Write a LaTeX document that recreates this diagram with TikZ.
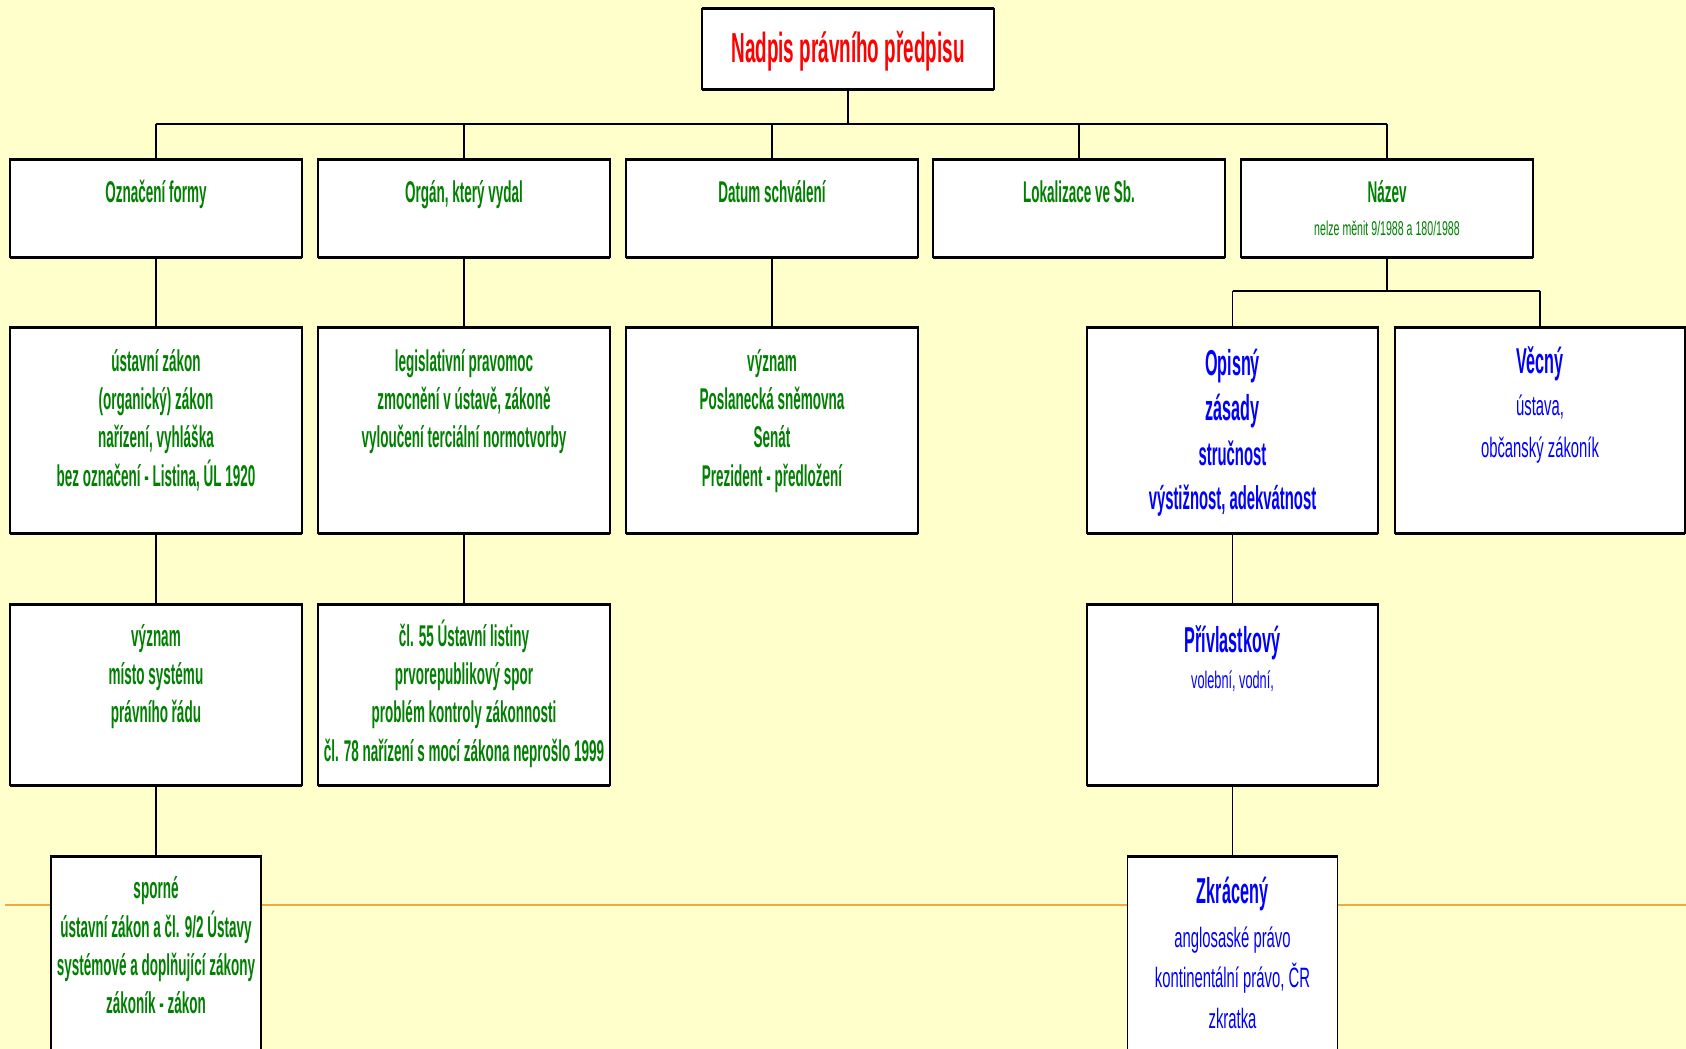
\documentclass[tikz,border=0pt]{standalone}
\usepackage{fontspec}
\newfontfamily\fb{Liberation Sans}[FakeStretch=0.45]
\newfontfamily\fr{Liberation Sans}[FakeStretch=0.53]
\definecolor{bgc}{RGB}{255,255,204}
\definecolor{gn}{RGB}{0,128,0}
\definecolor{bl}{RGB}{0,0,255}
\definecolor{rd}{RGB}{255,0,0}
\definecolor{org}{RGB}{240,168,64}
\begin{document}
\begin{tikzpicture}[x=1pt,y=-1pt,
  box/.style={draw=black, fill=white, line width=1.5pt, inner sep=0pt, outer sep=0pt, anchor=north west},
  edgeline/.style={line width=3pt},
  conn/.style={line width=1.3pt},
  bus/.style={line width=2.5pt},
  txt/.style={anchor=base, inner sep=0pt},
  ttl/.style={txt, text=rd, font=\fb\bfseries\fontsize{42}{50}\selectfont},
  gb/.style={txt, text=gn, font=\fb\bfseries\fontsize{30}{36}\selectfont},
  gr/.style={txt, text=gn, font=\fr\fontsize{20}{24}\selectfont},
  bb/.style={txt, text=bl, font=\fb\bfseries\fontsize{36}{42}\selectfont},
  bbs/.style={txt, text=bl, font=\fb\bfseries\fontsize{33}{40}\selectfont},
  br/.style={txt, text=bl, font=\fr\fontsize{28}{34}\selectfont},
  brs/.style={txt, text=bl, font=\fr\fontsize{24}{28}\selectfont}
]
\useasboundingbox (0,0) rectangle (1686,1049);
\clip (0,0) rectangle (1686,1049);
\fill[bgc] (0,0) rectangle (1686,1049);
\coordinate (busy) at (0,124);
\coordinate (nbus) at (0,291);
% orange rule
\coordinate (ol) at (5,905);
\coordinate (or) at (1690,905);
\draw[org, line width=2pt] (ol) -- (or);

% boxes
\node[box, minimum width=292, minimum height=80] (t) at (702,9) {};
\node[box, minimum width=292, minimum height=98] (b1) at (10,159) {};
\node[box, minimum width=292, minimum height=98] (b2) at (318,159) {};
\node[box, minimum width=292, minimum height=98] (b3) at (626,159) {};
\node[box, minimum width=292, minimum height=98] (b4) at (933,159) {};
\node[box, minimum width=292, minimum height=98] (b5) at (1241,159) {};
\node[box, minimum width=292, minimum height=206] (a1) at (10,327) {};
\node[box, minimum width=292, minimum height=206] (a2) at (318,327) {};
\node[box, minimum width=292, minimum height=206] (a3) at (626,327) {};
\node[box, minimum width=291, minimum height=206] (o2) at (1087,327) {};
\node[box, minimum width=290, minimum height=206] (v2) at (1395,327) {};
\node[box, minimum width=292, minimum height=181] (c1) at (10,604) {};
\node[box, minimum width=292, minimum height=181] (c2) at (318,604) {};
\node[box, minimum width=291, minimum height=181] (p3) at (1087,604) {};
\node[box, minimum width=210, minimum height=230] (d1) at (51,856) {};
\node[box, minimum width=210, minimum height=230] (z4) at (1127.5,856) {};

% connectors
\draw[conn] (t.south) -- (t.south |- busy);
\draw[bus] (b1.north |- busy) -- (b5.north |- busy);
\foreach \b in {b1,b2,b3,b4,b5} \draw[conn] (\b.north |- busy) -- (\b.north);
\draw[conn] (b1.south) -- (a1.north);
\draw[conn] (b2.south) -- (a2.north);
\draw[conn] (b3.south) -- (a3.north);
\draw[conn] (a1.south) -- (c1.north);
\draw[conn] (a2.south) -- (c2.north);
\draw[conn] (c1.south) -- (d1.north);
\draw[conn] (b5.south) -- (b5.south |- nbus);
\draw[bus] (o2.north |- nbus) -- (v2.north |- nbus);
\draw[conn] (o2.north |- nbus) -- (o2.north);
\draw[conn] (v2.north |- nbus) -- (v2.north);
\draw[conn] (o2.south) -- (p3.north);
\draw[conn] (p3.south) -- (z4.north);

% thick top and bottom edges
\foreach \b in {t,b1,b2,b3,b4,b5,a1,a2,a3,o2,v2,c1,c2,p3,d1,z4}
  \draw[edgeline] (\b.north west) -- (\b.north east) (\b.south west) -- (\b.south east);

% texts
\node[ttl] (tt) at (848,63) {Nadpis právního předpisu};

\node[gb] (h1) at (156,202) {Označení formy};
\node[gb] (h2) at (464,202) {Orgán, který vydal};
\node[gb] (h3) at (772,202) {Datum schválení};
\node[gb] (h4) at (1079,202) {Lokalizace ve Sb.};
\node[gb] (h5) at (1387,202) {Název};
\node[gr] (h5s) at (1387,235) {nelze měnit 9/1988 a 180/1988};

\node[gb] (a1l1) at (156,371) {ústavní zákon};
\node[gb] (a1l2) at (156,409) {(organický) zákon};
\node[gb] (a1l3) at (156,447) {nařízení, vyhláška};
\node[gb] (a1l4) at (156,486) {bez označení - Listina, ÚL 1920};

\node[gb] (a2l1) at (464,371) {legislativní pravomoc};
\node[gb] (a2l2) at (464,409) {zmocnění v ústavě, zákoně};
\node[gb] (a2l3) at (464,447) {vyloučení terciální normotvorby};

\node[gb] (a3l1) at (772,371) {význam};
\node[gb] (a3l2) at (772,409) {Poslanecká sněmovna};
\node[gb] (a3l3) at (772,447) {Senát};
\node[gb] (a3l4) at (772,486) {Prezident - předložení};

\node[bb] (o2l1) at (1232.5,375) {Opisný};
\node[bb] (o2l2) at (1232.5,420) {zásady};
\node[bbs] (o2l3) at (1232.5,465) {stručnost};
\node[bbs] (o2l4) at (1232.5,509) {výstižnost, adekvátnost};

\node[bb] (v2l1) at (1540,373) {Věcný};
\node[br] (v2l2) at (1540,415) {ústava,};
\node[br] (v2l3) at (1540,457) {občanský zákoník};

\node[gb] (c1l1) at (156,646) {význam};
\node[gb] (c1l2) at (156,684) {místo systému};
\node[gb] (c1l3) at (156,722) {právního řádu};

\node[gb] (c2l1) at (464,646) {čl. 55 Ústavní listiny};
\node[gb] (c2l2) at (464,684) {prvorepublikový spor};
\node[gb] (c2l3) at (464,722) {problém kontroly zákonnosti};
\node[gb] (c2l4) at (464,761) {čl. 78 nařízení s mocí zákona neprošlo 1999};

\node[bb] (p3l1) at (1232.5,652) {Přívlastkový};
\node[brs] (p3l2) at (1232.5,688) {volební, vodní,};

\node[gb] (d1l1) at (156,898) {sporné};
\node[gb] (d1l2) at (156,937) {ústavní zákon a čl. 9/2 Ústavy};
\node[gb] (d1l3) at (156,975) {systémové a doplňující zákony};
\node[gb] (d1l4) at (156,1013) {zákoník - zákon};

\node[bb] (z4l1) at (1232.5,903) {Zkrácený};
\node[br] (z4l2) at (1232.5,947) {anglosaské právo};
\node[br] (z4l3) at (1232.5,987) {kontinentální právo, ČR};
\node[br] (z4l4) at (1232.5,1028) {zkratka};
\end{tikzpicture}
\end{document}
